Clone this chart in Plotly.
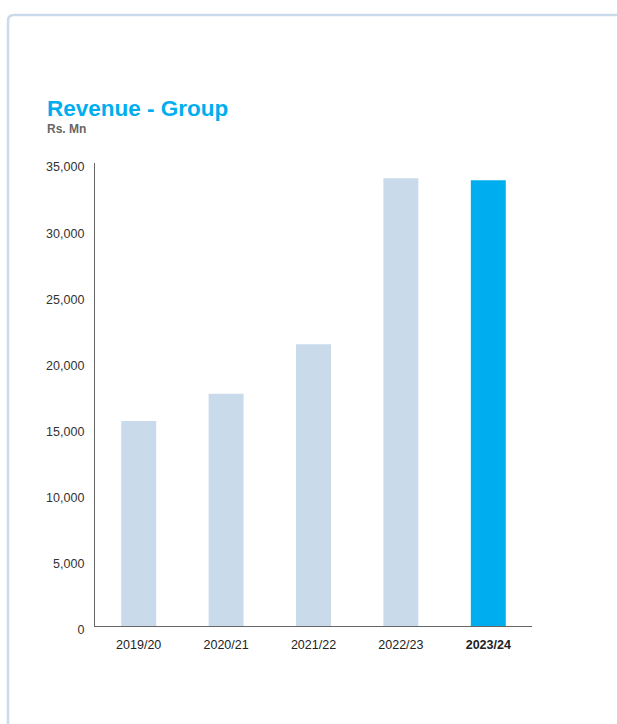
import plotly.graph_objects as go

# Group revenue by financial year (Rs. Mn)
years = ["2019/20", "2020/21", "2021/22", "2022/23", "2023/24"]
revenue = [15500, 17550, 21300, 33850, 33700]
tick_vals = [0, 5000, 10000, 15000, 20000, 25000, 30000, 35000]
tick_text = ["0", "5,000", "10,000", "15,000", "20,000", "25,000", "30,000", "35,000"]

PALE = "#C9DAEB"
BRIGHT = "#00AEEF"
bar_colors = [PALE] * (len(years) - 1) + [BRIGHT]
x_labels = years[:-1] + ["<b>" + years[-1] + "</b>"]

W, H = 617, 724
L, R, T, B = 95, 85, 163, 98
pw, ph = W - L - R, H - T - B


def px(x):
    return (x - L) / pw


def py(y):
    return (H - B - y) / ph


fig = go.Figure(
    go.Bar(
        x=years,
        y=revenue,
        marker=dict(color=bar_colors, line=dict(width=0)),
        hoverinfo="x+y",
    )
)

# Card outline (left and top edges with rounded corner)
r = 6
x0, y0 = px(8), py(15)
rx, ry = r / pw, r / ph
card_path = (
    f"M {x0},{py(H + 5)} L {x0},{y0 - ry} "
    f"Q {x0},{y0} {x0 + rx},{y0} L {px(W + 5)},{y0}"
)

fig.update_layout(
    width=W,
    height=H,
    margin=dict(l=L, r=R, t=T, b=B),
    paper_bgcolor="white",
    plot_bgcolor="white",
    bargap=0.6,
    showlegend=False,
    font=dict(family="Liberation Sans, Arial, sans-serif", color="#333333"),
    xaxis=dict(
        tickmode="array",
        tickvals=years,
        ticktext=x_labels,
        showline=True,
        linecolor="#666666",
        linewidth=1.3,
        ticks="",
        showgrid=False,
        zeroline=False,
        tickfont=dict(size=12.5, color="#222222"),
        ticklabelstandoff=7,
        fixedrange=True,
    ),
    yaxis=dict(
        range=[0, 35000],
        tickmode="array",
        tickvals=tick_vals,
        ticktext=tick_text,
        showline=True,
        linecolor="#666666",
        linewidth=1.3,
        ticks="",
        showgrid=False,
        zeroline=False,
        tickfont=dict(size=12.5, color="#333333"),
        ticklabelstandoff=7,
        ticklabelshift=4,
        fixedrange=True,
    ),
    shapes=[
        dict(
            type="path",
            xref="paper",
            yref="paper",
            path=card_path,
            line=dict(color=PALE, width=2.5),
            layer="below",
        )
    ],
    annotations=[
        dict(
            text="<b>Revenue - Group</b>",
            xref="paper",
            yref="paper",
            x=px(45),
            y=py(123),
            xanchor="left",
            yanchor="bottom",
            showarrow=False,
            font=dict(size=22.5, color=BRIGHT),
        ),
        dict(
            text="<b>Rs. Mn</b>",
            xref="paper",
            yref="paper",
            x=px(45),
            y=py(120),
            xanchor="left",
            yanchor="top",
            showarrow=False,
            font=dict(size=12, color="#666666"),
        ),
    ],
)

fig.write_html("out.html")
